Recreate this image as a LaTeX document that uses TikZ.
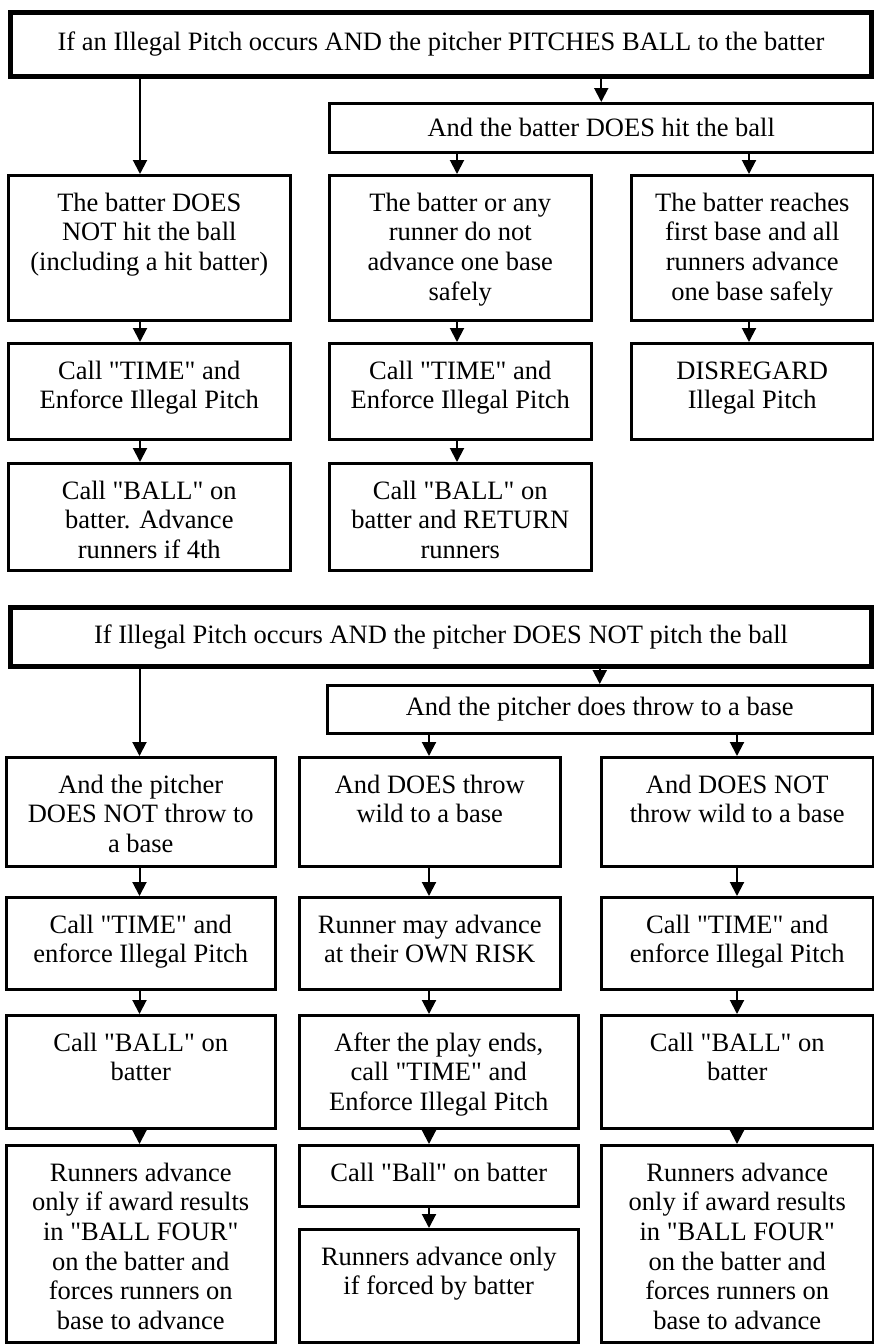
\documentclass[tikz,border=0pt]{standalone}
\usepackage{fontspec}
\newfontfamily\tnr{Liberation Serif}
\usetikzlibrary{arrows.meta}
\tikzset{
  txt/.style={font=\tnr\fontsize{26.5pt}{29.6pt}\selectfont},
  box/.style={txt, draw, line width=2.5pt, anchor=north west, inner sep=0pt},
  bigbox/.style={txt, draw, line width=5pt, anchor=north west, inner sep=0pt},
  headbox/.style={txt, draw, line width=2.5pt, anchor=north west, inner sep=0pt},
  arr/.style={line width=2pt, -{Triangle[width=14pt,length=14pt]}}
}
% name, x1, y1, x2, y2, text
\newcommand{\fbx}[6]{%
  \node[box] (#1) at (#2,#3) {\parbox[c][\dimexpr #5pt-#3pt\relax][t]{\dimexpr #4pt-#2pt\relax}{\centering\rule{0pt}{36pt}#6}};}
\begin{document}
\begin{tikzpicture}[x=1pt,y=-1pt]
\useasboundingbox (0,0) rectangle (874,1344);
\fill[white] (0,0) rectangle (874,1344);
% ---------- top section ----------
\node[bigbox, minimum width=861pt, minimum height=64pt] (A) at (8,10)
  {If an Illegal Pitch occurs AND the pitcher PITCHES BALL to the batter};
\node[headbox, minimum width=544pt, minimum height=49pt] (B) at (328,102)
  {And the batter DOES hit the ball};
\fbx{L1}{7}{174}{289}{319}{The batter DOES\\NOT hit the ball\\(including a hit batter)}
\fbx{M1}{328}{174}{590}{319}{The batter or any\\runner do not\\advance one base\\safely}
\fbx{R1}{630}{174}{872}{319}{The batter reaches\\first base and all\\runners advance\\one base safely}
\fbx{L2}{7}{342}{289}{438}{Call "TIME" and\\Enforce Illegal Pitch}
\fbx{M2}{328}{342}{590}{438}{Call "TIME" and\\Enforce Illegal Pitch}
\fbx{R2}{630}{342}{872}{438}{DISREGARD\\Illegal Pitch}
\fbx{L3}{7}{462}{289}{569}{Call "BALL" on\\batter. Advance\\runners if 4th}
\fbx{M3}{328}{462}{590}{569}{Call "BALL" on\\batter and RETURN\\runners}
\coordinate (xl) at (140,0);
\coordinate (xm) at (457,0);
\coordinate (xr) at (749,0);
\draw[arr] (A.south -| xl) -- (L1.north -| xl);
\draw[arr] (A.south -| B.north) -- (B.north);
\draw[arr] (B.south -| xm) -- (M1.north -| xm);
\draw[arr] (B.south -| xr) -- (R1.north -| xr);
\draw[arr] (L1.south -| xl) -- (L2.north -| xl);
\draw[arr] (L2.south -| xl) -- (L3.north -| xl);
\draw[arr] (M1.south -| xm) -- (M2.north -| xm);
\draw[arr] (M2.south -| xm) -- (M3.north -| xm);
\draw[arr] (R1.south -| xr) -- (R2.north -| xr);
% ---------- bottom section ----------
\node[bigbox, minimum width=861pt, minimum height=59pt] (C) at (8,605)
  {If Illegal Pitch occurs AND the pitcher DOES NOT pitch the ball};
\node[headbox, minimum width=545pt, minimum height=48pt] (D) at (326,684)
  {And the pitcher does throw to a base};
\fbx{SL1}{5}{756}{274}{865}{And the pitcher\\DOES NOT throw to\\a base}
\fbx{SM1}{298}{756}{559}{865}{And DOES throw\\wild to a base}
\fbx{SR1}{600}{756}{872}{865}{And DOES NOT\\throw wild to a base}
\fbx{SL2}{5}{896}{274}{988}{Call "TIME" and\\enforce Illegal Pitch}
\fbx{SM2}{298}{896}{559}{988}{Runner may advance\\at their OWN RISK}
\fbx{SR2}{600}{896}{872}{988}{Call "TIME" and\\enforce Illegal Pitch}
\fbx{SL3}{5}{1014}{274}{1127}{Call "BALL" on\\batter}
\fbx{SM3}{298}{1014}{577}{1127}{After the play ends,\\call "TIME" and\\Enforce Illegal Pitch}
\fbx{SR3}{600}{1014}{872}{1127}{Call "BALL" on\\batter}
\fbx{SL4}{5}{1144}{274}{1341}{Runners advance\\only if award results\\in "BALL FOUR"\\on the batter and\\forces runners on\\base to advance}
\fbx{SM4}{298}{1144}{577}{1205}{Call "Ball" on batter}
\fbx{SM5}{298}{1228}{577}{1341}{Runners advance only\\if forced by batter}
\fbx{SR4}{600}{1144}{872}{1341}{Runners advance\\only if award results\\in "BALL FOUR"\\on the batter and\\forces runners on\\base to advance}
\coordinate (sl) at (139.5,0);
\coordinate (sm) at (429,0);
\coordinate (sr) at (737,0);
\draw[arr] (C.south -| sl) -- (SL1.north -| sl);
\draw[arr] (C.south -| D.north) -- (D.north);
\draw[arr] (D.south -| sm) -- (SM1.north -| sm);
\draw[arr] (D.south -| sr) -- (SR1.north -| sr);
\draw[arr] (SL1.south -| sl) -- (SL2.north -| sl);
\draw[arr] (SL2.south -| sl) -- (SL3.north -| sl);
\draw[arr] (SL3.south -| sl) -- (SL4.north -| sl);
\draw[arr] (SM1.south -| sm) -- (SM2.north -| sm);
\draw[arr] (SM2.south -| sm) -- (SM3.north -| sm);
\draw[arr] (SM3.south -| sm) -- (SM4.north -| sm);
\draw[arr] (SM4.south -| sm) -- (SM5.north -| sm);
\draw[arr] (SR1.south -| sr) -- (SR2.north -| sr);
\draw[arr] (SR2.south -| sr) -- (SR3.north -| sr);
\draw[arr] (SR3.south -| sr) -- (SR4.north -| sr);
\end{tikzpicture}
\end{document}
